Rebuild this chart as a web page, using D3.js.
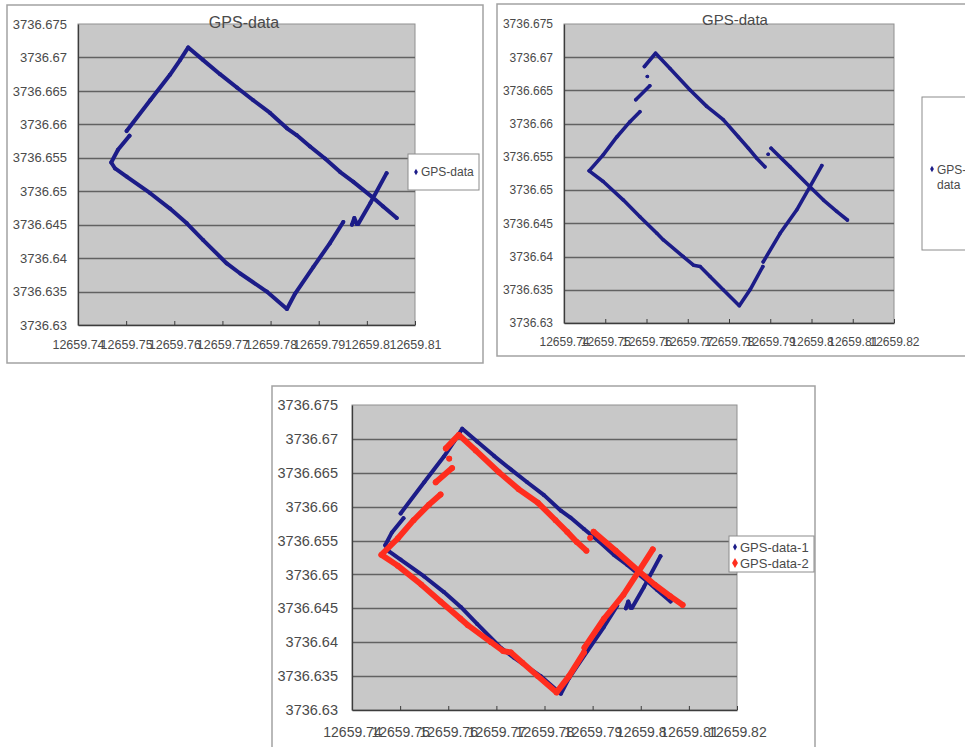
<!DOCTYPE html>
<html>
<head>
<meta charset="utf-8">
<script src="https://cdn.jsdelivr.net/npm/d3@7"></script>
<style>
  body { margin: 0; background: #ffffff; }
  svg { display: block; }
</style>
</head>
<body>
<svg id="chart" width="965" height="747"></svg>
<script>
// ---- Track of the first receiver (null marks a gap between fixes) ----
const gps1Lon = [
  12659.8041, 12659.8007, 12659.7982, null,
  12659.7979, 12659.7974, 12659.7969, null,
  12659.7951, 12659.7923, 12659.7889, 12659.7851, 12659.7834,
  12659.7792, 12659.7737, 12659.7709, 12659.7660, 12659.7626, 12659.7591, 12659.7550, 12659.7501, 12659.7477, 12659.7469,
  12659.7483, 12659.7507, null,
  12659.7501, 12659.7550, 12659.7591, 12659.7612, 12659.7629,
  12659.7660, 12659.7695, 12659.7730, 12659.7764, 12659.7799, 12659.7834, 12659.7854, 12659.7882, 12659.7913, 12659.7944, 12659.7972, 12659.8010, 12659.8034, 12659.8062
];
const gps1Lat = [
  3736.6527, 3736.6482, 3736.6451, null,
  3736.6451, 3736.6460, 3736.6450, null,
  3736.6454, 3736.6422, 3736.6387, 3736.6347, 3736.6324,
  3736.6350, 3736.6377, 3736.6392, 3736.6427, 3736.6452, 3736.6474, 3736.6497, 3736.6522, 3736.6534, 3736.6543,
  3736.6562, 3736.6583, null,
  3736.6590, 3736.6636, 3736.6674, 3736.6696, 3736.6715,
  3736.6696, 3736.6675, 3736.6655, 3736.6636, 3736.6617, 3736.6594, 3736.6584, 3736.6567, 3736.6549, 3736.6529, 3736.6514, 3736.6492, 3736.6477, 3736.6460
];

// ---- Track of the second receiver ----
const gps2Lon = [
  12659.8025, 12659.7996, 12659.7964, 12659.7924, 12659.7883, null,
  12659.7882, 12659.7851, 12659.7825,
  12659.7786, 12659.7754, 12659.7730, 12659.7714, 12659.7689, 12659.7641, 12659.7625, 12659.7584, 12659.7544, 12659.7495, 12659.7461,
  12659.7495, 12659.7528, 12659.7560, 12659.7584, null,
  12659.7574, 12659.7608, null,
  12659.7602, null,
  12659.7595, 12659.7622,
  12659.7657, 12659.7705, 12659.7746, 12659.7786, 12659.7823, 12659.7847, 12659.7867, 12659.7887, null,
  12659.7895, null,
  12659.7902, 12659.7948, 12659.7996, 12659.8029, 12659.8061, 12659.8087
];
const gps2Lat = [
  3736.6537, 3736.6505, 3736.6470, 3736.6435, 3736.6392, null,
  3736.6385, 3736.6350, 3736.6326,
  3736.6350, 3736.6370, 3736.6385, 3736.6387, 3736.6400, 3736.6425, 3736.6435, 3736.6460, 3736.6485, 3736.6513, 3736.6529,
  3736.6553, 3736.6580, 3736.6603, 3736.6618, null,
  3736.6636, 3736.6657, null,
  3736.6671, null,
  3736.6686, 3736.6706,
  3736.6683, 3736.6651, 3736.6626, 3736.6606, 3736.6580, 3736.6563, 3736.6548, 3736.6535, null,
  3736.6554, null,
  3736.6563, 3736.6535, 3736.6505, 3736.6485, 3736.6468, 3736.6455
];

// ---- Axis ticks and labels ----
const yTicks = [3736.63, 3736.635, 3736.64, 3736.645, 3736.65, 3736.655, 3736.66, 3736.665, 3736.67, 3736.675];
const yTickLabels = ["3736.63", "3736.635", "3736.64", "3736.645", "3736.65", "3736.655", "3736.66", "3736.665", "3736.67", "3736.675"];
const xTicksShort = [12659.74, 12659.75, 12659.76, 12659.77, 12659.78, 12659.79, 12659.80, 12659.81];
const xTickLabelsShort = ["12659.74", "12659.75", "12659.76", "12659.77", "12659.78", "12659.79", "12659.8", "12659.81"];
const xTicksLong = [12659.74, 12659.75, 12659.76, 12659.77, 12659.78, 12659.79, 12659.80, 12659.81, 12659.82];
const xTickLabelsLong = ["12659.74", "12659.75", "12659.76", "12659.77", "12659.78", "12659.79", "12659.8", "12659.81", "12659.82"];

const chartTitle = "GPS-data";
const seriesNames = ["GPS-data", "GPS-data-1", "GPS-data-2"];
const seriesColors = ["#1c1c88", "#ff2d1e"];

const FONT = "'Liberation Sans', Arial, sans-serif";
const TEXT = "#4a4a4a";
const svg = d3.select("#chart");

function panel(x, y, w, h) {
  svg.append("rect")
    .attr("x", x).attr("y", y).attr("width", w).attr("height", h)
    .attr("fill", "#ffffff").attr("stroke", "#a2a2a2").attr("stroke-width", 1.5);
}

function drawPlot(o) {
  const x = d3.scaleLinear().domain([o.xTicks[0], o.xTicks[o.xTicks.length - 1]]).range([o.left, o.right]);
  const y = d3.scaleLinear().domain([yTicks[0], yTicks[yTicks.length - 1]]).range([o.bottom, o.top]);
  const g = svg.append("g");

  // plot area
  g.append("rect")
    .attr("x", o.left).attr("y", o.top)
    .attr("width", o.right - o.left).attr("height", o.bottom - o.top)
    .attr("fill", "#c8c8c8").attr("stroke", "#909090").attr("stroke-width", 1);

  // horizontal gridlines
  g.selectAll("line.grid").data(yTicks.slice(1, -1)).join("line")
    .attr("class", "grid")
    .attr("x1", o.left).attr("x2", o.right)
    .attr("y1", d => Math.round(y(d)) + 0.5).attr("y2", d => Math.round(y(d)) + 0.5)
    .attr("stroke", "#626262").attr("stroke-width", 1.3);

  // value axis (left)
  const yAxis = d3.axisLeft(y).tickValues(yTicks)
    .tickFormat((d, i) => yTickLabels[i]).tickSize(0).tickPadding(o.yGap);
  const ya = g.append("g").attr("transform", `translate(${o.left},0)`).call(yAxis);
  ya.select(".domain").attr("stroke", "#3c3c3c").attr("stroke-width", 1.3);
  ya.selectAll("text").attr("fill", TEXT).attr("font-family", FONT).attr("font-size", o.fontSize);

  // x axis (bottom)
  const xAxis = d3.axisBottom(x).tickValues(o.xTicks)
    .tickFormat((d, i) => o.xLabels[i]).tickSizeInner(-4).tickSizeOuter(0);
  const xa = g.append("g").attr("transform", `translate(0,${o.bottom})`).call(xAxis);
  xa.select(".domain").attr("stroke", "#3c3c3c").attr("stroke-width", 1.3);
  xa.selectAll(".tick line").attr("stroke", "#3c3c3c");
  xa.selectAll("text").attr("fill", TEXT).attr("font-family", FONT).attr("font-size", o.xFontSize)
    .attr("y", o.xLabelOffset).attr("dy", "0.35em");

  // series
  o.series.forEach(s => {
    const pts = s.lon.map((v, i) => [v, s.lat[i]]);
    const line = d3.line().defined(d => d[0] != null).x(d => x(d[0])).y(d => y(d[1]));
    g.append("path").datum(pts)
      .attr("d", line).attr("fill", "none")
      .attr("stroke", s.color).attr("stroke-width", s.width)
      .attr("stroke-linecap", "round").attr("stroke-linejoin", "round");
    g.append("g").selectAll("circle").data(pts.filter(d => d[0] != null)).join("circle")
      .attr("cx", d => x(d[0])).attr("cy", d => y(d[1])).attr("r", s.width / 2)
      .attr("fill", s.color);
  });

  if (o.title) {
    g.append("text").attr("x", o.titleX).attr("y", o.titleY)
      .attr("text-anchor", "middle").attr("dominant-baseline", "central")
      .attr("font-family", FONT).attr("font-size", o.titleSize).attr("fill", TEXT)
      .text(o.title);
  }
}

function legendEntry(x, y, color, size, label, fontSize) {
  svg.append("path")
    .attr("transform", `translate(${x},${y})`)
    .attr("d", d3.symbol(d3.symbolDiamond, size)())
    .attr("fill", color);
  svg.append("text").attr("x", x + 5).attr("y", y)
    .attr("dominant-baseline", "central")
    .attr("font-family", FONT).attr("font-size", fontSize).attr("fill", TEXT)
    .text(label);
}

// ---- Chart 1: first receiver ----
panel(7, 5, 476, 358);
drawPlot({
  left: 78, right: 415, top: 24, bottom: 325,
  xTicks: xTicksShort, xLabels: xTickLabelsShort,
  fontSize: 13, xFontSize: 12.5, yGap: 11, xLabelOffset: 20,
  title: chartTitle, titleX: 244, titleY: 22, titleSize: 16,
  series: [{ lon: gps1Lon, lat: gps1Lat, color: seriesColors[0], width: 4 }]
});
svg.append("rect").attr("x", 408).attr("y", 154).attr("width", 71).attr("height", 36)
  .attr("fill", "#ffffff").attr("stroke", "#8c8c8c").attr("stroke-width", 1);
legendEntry(416, 172, seriesColors[0], 12, seriesNames[0], 12);

// ---- Chart 2: second receiver ----
panel(497, 4, 490, 352);
drawPlot({
  left: 564, right: 894, top: 24, bottom: 323,
  xTicks: xTicksLong, xLabels: xTickLabelsLong,
  fontSize: 12, xFontSize: 12, yGap: 11, xLabelOffset: 19,
  title: chartTitle, titleX: 735, titleY: 19, titleSize: 15,
  series: [{ lon: gps2Lon, lat: gps2Lat, color: seriesColors[0], width: 3.6 }]
});
svg.append("rect").attr("x", 922).attr("y", 97).attr("width", 60).attr("height", 153)
  .attr("fill", "#ffffff").attr("stroke", "#8c8c8c").attr("stroke-width", 1);
svg.append("path").attr("transform", "translate(932,169)")
  .attr("d", d3.symbol(d3.symbolDiamond, 12)()).attr("fill", seriesColors[0]);
svg.append("text").attr("x", 937).attr("y", 170)
  .attr("font-family", FONT).attr("font-size", 12).attr("fill", TEXT)
  .attr("dominant-baseline", "central")
  .call(t => {
    const parts = seriesNames[0].split("-");
    t.append("tspan").attr("x", 937).text(parts[0] + "-");
    t.append("tspan").attr("x", 937).attr("dy", 15).text(parts[1]);
  });

// ---- Chart 3: both receivers overlaid ----
panel(272, 386, 543, 380);
drawPlot({
  left: 352, right: 737, top: 405, bottom: 710,
  xTicks: xTicksLong, xLabels: xTickLabelsLong,
  fontSize: 14.5, xFontSize: 14, yGap: 14, xLabelOffset: 22,
  series: [
    { lon: gps1Lon, lat: gps1Lat, color: seriesColors[0], width: 4 },
    { lon: gps2Lon, lat: gps2Lat, color: seriesColors[1], width: 5.8 }
  ]
});
svg.append("rect").attr("x", 729).attr("y", 536).attr("width", 85).attr("height", 36)
  .attr("fill", "#ffffff").attr("stroke", "#8c8c8c").attr("stroke-width", 1);
legendEntry(735, 547, seriesColors[0], 14, seriesNames[1], 13);
legendEntry(735, 563, seriesColors[1], 30, seriesNames[2], 13);
</script>
</body>
</html>
